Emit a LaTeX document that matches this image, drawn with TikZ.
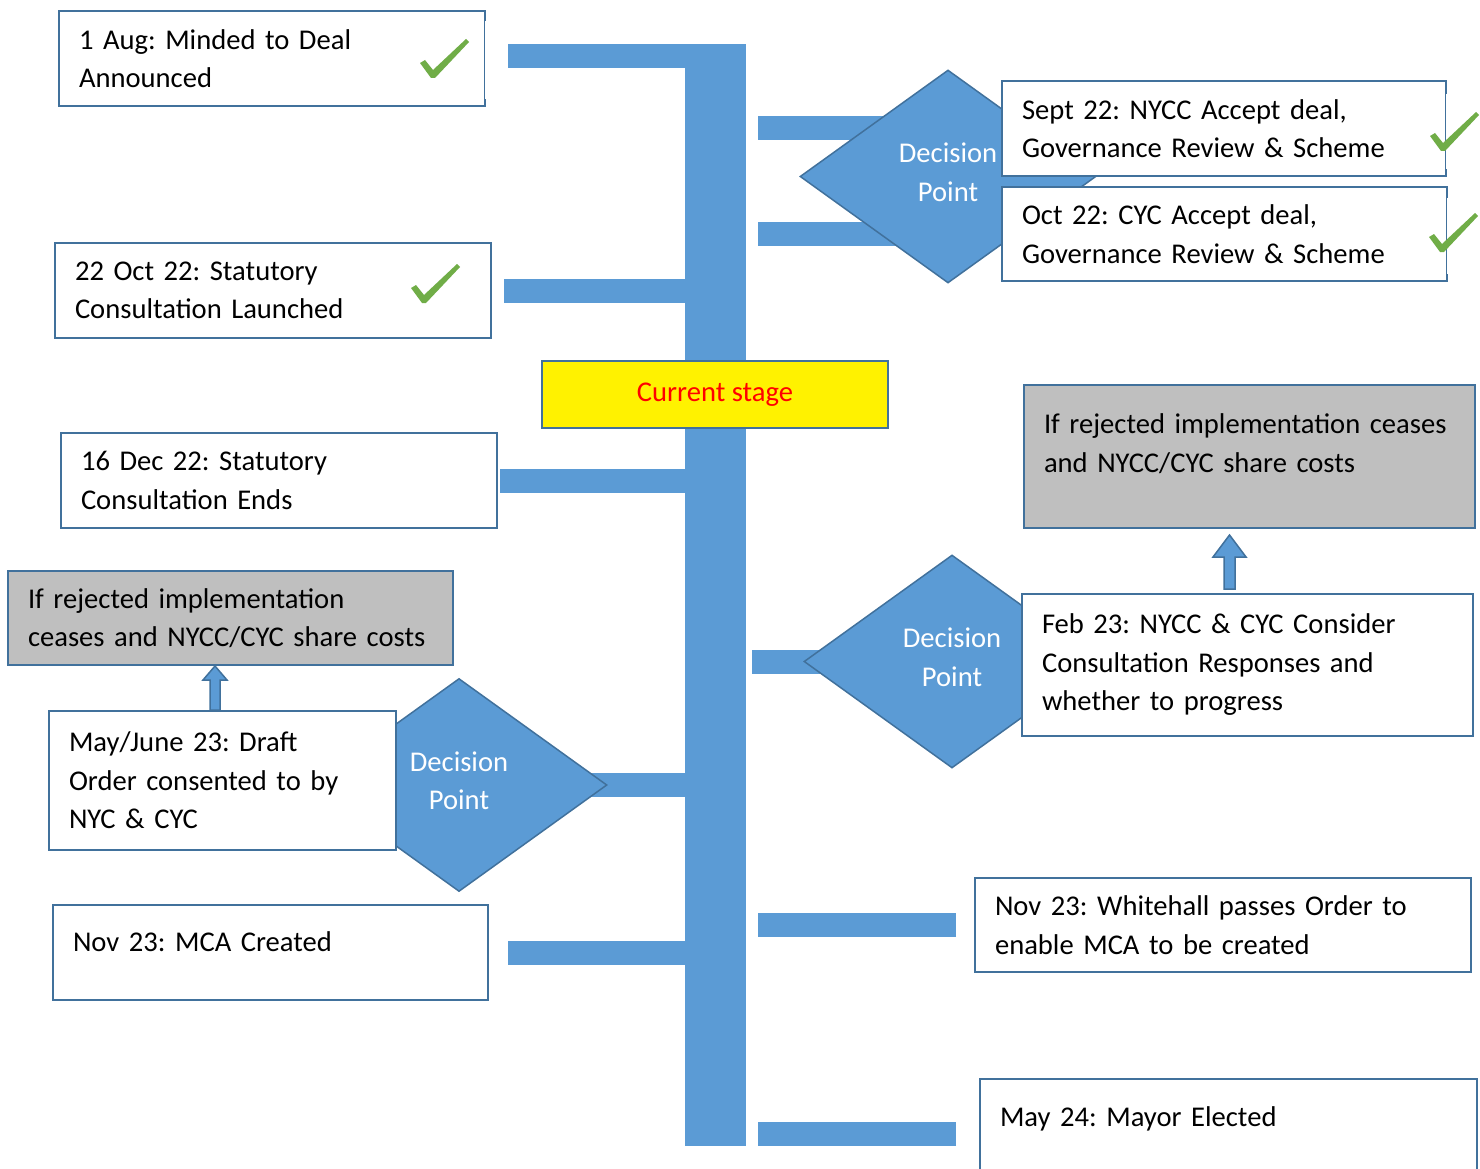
\documentclass[tikz,border=0pt]{standalone}
\usepackage{fontspec}
\setmainfont{Carlito}
\usetikzlibrary{calc, shapes.geometric, backgrounds}

\definecolor{barblue}{HTML}{5B9BD5}
\definecolor{edgeblue}{HTML}{41719C}
\definecolor{tickgreen}{HTML}{70AD47}
\definecolor{rejgrey}{HTML}{BFBFBF}

\begin{document}
\begin{tikzpicture}[
  x=1pt, y=-1pt,
  every node/.style = {font=\fontsize{28.6}{38.5}\selectfont\frenchspacing},
  block/.style = {draw=edgeblue, line width=2pt, fill=white, align=left,
                  inner xsep=20pt, inner ysep=0pt},
  rejblock/.style = {block, fill=rejgrey},
  decision/.style = {diamond, draw=edgeblue, line width=1.5pt, fill=barblue,
                     text=white, align=center, inner sep=0pt, text depth=9pt,
                     minimum width=296pt, minimum height=213pt},
  bar/.style = {barblue, line width=24pt},
  uparrow/.style = {draw=edgeblue, line width=1.5pt, fill=barblue},
  openright/.style = {white, line width=3pt},
  tick/.pic = {\fill[tickgreen] (-13,-14) -- (-8,-17) -- (0,-7) -- (33,-38)
                 -- (36,-35) -- (2,1) -- (-2,1) -- cycle;}
]

  \useasboundingbox (0,0) rectangle (1480,1169);
  \clip (0,0) rectangle (1480,1169);

  % Timeline spine
  \node[fill=barblue, inner sep=0pt, minimum width=61pt, minimum height=1102pt]
    (spine) at (715.5,595) {};

  % Left-hand milestones
  \node[block, text width=386pt, minimum height=95pt] (aug) at (272,58.5)
    {1 Aug: Minded to Deal\\Announced};
  \node[block, text width=396pt, minimum height=95pt] (stat) at (273,290.5)
    {22 Oct 22: Statutory\\Consultation Launched};
  \node[block, text width=396pt, minimum height=95pt] (statend) at (279,480.5)
    {16 Dec 22: Statutory\\Consultation Ends};
  \node[rejblock, text width=405pt, minimum height=94pt] (rejleft) at (230.5,618)
    {If rejected implementation\\ceases and NYCC/CYC share costs};
  \node[decision] (dpleft) at (459,785) {Decision\\Point};
  \node[block, text width=307pt, minimum height=139pt] (draft) at (222.5,780.5)
    {May/June 23: Draft\\Order consented to by\\NYC \& CYC};
  \node[block, text width=395pt, minimum height=95pt, text depth=22pt] (mca) at (270.5,952.5)
    {Nov 23: MCA Created};

  % Right-hand milestones
  \node[decision] (dptop) at (948,176.5) {Decision\\Point};
  \node[block, text width=404pt, minimum height=95pt] (nycc) at (1224,128.5)
    {Sept 22: NYCC Accept deal,\\Governance Review \& Scheme};
  \node[block, text width=405pt, minimum height=94pt] (cyc) at (1224.5,234)
    {Oct 22: CYC Accept deal,\\Governance Review \& Scheme};
  \node[rejblock, text width=411pt, minimum height=143pt, text depth=65pt] (rejright) at (1249.5,456.5)
    {If rejected implementation ceases\\and NYCC/CYC share costs};
  \node[decision] (dpmid) at (952,661.5) {Decision\\Point};
  \node[block, text width=411pt, minimum height=142pt] (consider) at (1247.5,665)
    {Feb 23: NYCC \& CYC Consider\\Consultation Responses and\\whether to progress};
  \node[block, text width=456pt, minimum height=94pt] (whitehall) at (1223,925)
    {Nov 23: Whitehall passes Order to\\enable MCA to be created};
  \node[block, text width=457pt, minimum height=110pt, text depth=35pt] (mayor) at (1228.5,1134)
    {May 24: Mayor Elected};

  % Current stage marker
  \node[draw=edgeblue, line width=2pt, fill=yellow, text=red,
        minimum width=346pt, minimum height=67pt] (current) at (715,394.5) {Current stage};

  % Broken right edges
  \draw[openright] ([yshift=-11pt]aug.north east) -- ([yshift=8pt]aug.south east);
  \draw[openright] ([yshift=-14pt]nycc.north east) -- ([yshift=8pt]nycc.south east);
  \draw[openright] ([yshift=-12pt]cyc.north east) -- ([yshift=8pt]cyc.south east);

  % Ticks for completed steps
  \pic at ($(aug.east)+(-53,18.5)$) {tick};
  \pic at ($(stat.east)+(-68,11.5)$) {tick};
  \pic at ($(nycc.east)+(-4,21.5)$) {tick};
  \pic at ($(cyc.east)+(-6,17)$) {tick};

  % Rejection arrows
  \coordinate (lfoot) at ([xshift=-7.5pt]draft.north);
  \coordinate (ltip) at (lfoot |- rejleft.south);
  \draw[uparrow] ([xshift=-5pt]lfoot) -- ([xshift=-5pt,yshift=-14pt]ltip)
    -- ([xshift=-12pt,yshift=-14pt]ltip) -- (ltip) -- ([xshift=12pt,yshift=-14pt]ltip)
    -- ([xshift=5pt,yshift=-14pt]ltip) -- ([xshift=5pt]lfoot) -- cycle;
  \coordinate (rfoot) at ([xshift=-18pt,yshift=4pt]consider.north);
  \coordinate (rtip) at ($(rfoot |- rejright.south)+(0,6)$);
  \draw[uparrow] ([xshift=-5.5pt]rfoot) -- ([xshift=-5.5pt,yshift=-22pt]rtip)
    -- ([xshift=-16.5pt,yshift=-22pt]rtip) -- (rtip) -- ([xshift=16.5pt,yshift=-22pt]rtip)
    -- ([xshift=5.5pt,yshift=-22pt]rtip) -- ([xshift=5.5pt]rfoot) -- cycle;

  % Bars joining the spine
  \begin{scope}[on background layer]
    \draw[bar, shorten <=22pt] ([yshift=2.5pt]aug.east) -- ([yshift=2.5pt]aug.east -| spine.center);
    \draw[bar, shorten <=12pt] (stat.east) -- (stat.east -| spine.center);
    \draw[bar, shorten <=2pt] (statend.east) -- (statend.east -| spine.center);
    \draw[bar] (dpleft.center) -- (dpleft.center -| spine.center);
    \draw[bar, shorten <=19pt] (mca.east) -- (mca.east -| spine.center);
    \draw[bar, shorten >=12pt] (nycc.west) -- (nycc.west -| spine.east);
    \draw[bar, shorten >=12pt] (cyc.west) -- (cyc.west -| spine.east);
    \draw[bar, shorten >=6pt] (dpmid.center) -- (dpmid.center -| spine.east);
    \draw[bar, shorten <=18pt, shorten >=12pt] (whitehall.west) -- (whitehall.west -| spine.east);
    \draw[bar, shorten <=23pt, shorten >=12pt] (mayor.west) -- (mayor.west -| spine.east);
  \end{scope}

\end{tikzpicture}
\end{document}
